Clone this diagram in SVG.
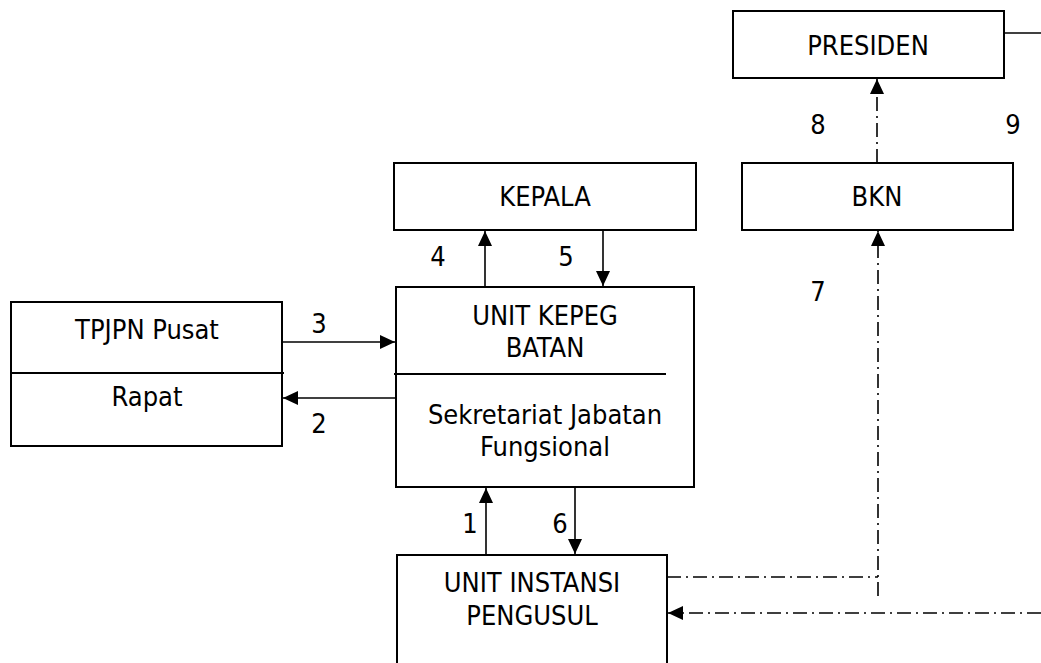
<svg xmlns="http://www.w3.org/2000/svg" width="1041" height="663" viewBox="0 0 1041 663">
  <defs>
    <style>
      .box { fill: #fff; stroke: #000; stroke-width: 2; }
      .div { stroke: #000; stroke-width: 2; fill: none; }
      .flow { stroke: #000; stroke-width: 1.6; fill: none; }
      .dd { stroke: #000; stroke-width: 1.6; fill: none; stroke-dasharray: 14 5 2 5; }
      .t { font-family: "DejaVu Sans", Tahoma, sans-serif; font-stretch: condensed; font-size: 27px; fill: #000; text-anchor: middle; }
    </style>
    <marker id="ah" viewBox="0 0 15 14" refX="15" refY="7" markerWidth="15" markerHeight="14" markerUnits="userSpaceOnUse" orient="auto">
      <path d="M0,0 L15,7 L0,14 Z" fill="#000"/>
    </marker>
  </defs>

  <g id="presiden">
    <rect class="box" x="733" y="11" width="271" height="67"/>
    <text class="t" x="868" y="55">PRESIDEN</text>
  </g>

  <g id="bkn">
    <rect class="box" x="742" y="163" width="271" height="67"/>
    <text class="t" x="877" y="206">BKN</text>
  </g>

  <g id="kepala">
    <rect class="box" x="394" y="163" width="302" height="67"/>
    <text class="t" x="545" y="206">KEPALA</text>
  </g>

  <g id="tpjpn">
    <rect class="box" x="11" y="302" width="271" height="144"/>
    <line class="div" x1="11" y1="373" x2="284" y2="373"/>
    <text class="t" x="147" y="339">TPJPN Pusat</text>
    <text class="t" x="147" y="406">Rapat</text>
  </g>

  <g id="unit-kepeg">
    <rect class="box" x="396" y="287" width="298" height="200"/>
    <line class="div" x1="394" y1="374" x2="666" y2="374"/>
    <text class="t" x="545" y="325">UNIT KEPEG</text>
    <text class="t" x="545" y="357">BATAN</text>
    <text class="t" x="545" y="424">Sekretariat Jabatan</text>
    <text class="t" x="545" y="456">Fungsional</text>
  </g>

  <g id="unit-instansi">
    <path class="box" d="M397,670 L397,555 L667,555 L667,670"/>
    <text class="t" x="532" y="592">UNIT INSTANSI</text>
    <text class="t" x="532" y="625">PENGUSUL</text>
  </g>

  <g id="connectors">
    <!-- PRESIDEN to the right edge -->
    <line class="flow" x1="1004" y1="33" x2="1041" y2="33"/>
    <!-- 8: BKN up to PRESIDEN -->
    <line class="dd" x1="877" y1="163" x2="877" y2="79" marker-end="url(#ah)"/>
    <!-- 4 and 5 -->
    <line class="flow" x1="485" y1="287" x2="485" y2="231" marker-end="url(#ah)"/>
    <line class="flow" x1="603" y1="230" x2="603" y2="286" marker-end="url(#ah)"/>
    <!-- 3 and 2 -->
    <line class="flow" x1="282" y1="342" x2="395" y2="342" marker-end="url(#ah)"/>
    <line class="flow" x1="396" y1="398" x2="283" y2="398" marker-end="url(#ah)"/>
    <!-- 1 and 6 -->
    <line class="flow" x1="486" y1="555" x2="486" y2="488" marker-end="url(#ah)"/>
    <line class="flow" x1="575" y1="487" x2="575" y2="554" marker-end="url(#ah)"/>
    <!-- 7: UNIT INSTANSI up to BKN -->
    <path class="dd" d="M667,577 L878,577"/>
    <line class="dd" x1="878" y1="596" x2="878" y2="231" marker-end="url(#ah)"/>
    <!-- 9: back to UNIT INSTANSI -->
    <line class="dd" x1="1041" y1="613" x2="668" y2="613" marker-end="url(#ah)"/>
  </g>

  <g id="labels">
    <text class="t" x="818" y="134">8</text>
    <text class="t" x="1013" y="134">9</text>
    <text class="t" x="438" y="266">4</text>
    <text class="t" x="566" y="266">5</text>
    <text class="t" x="818" y="301">7</text>
    <text class="t" x="319" y="333">3</text>
    <text class="t" x="319" y="433">2</text>
    <text class="t" x="470" y="533">1</text>
    <text class="t" x="560" y="533">6</text>
  </g>
</svg>
